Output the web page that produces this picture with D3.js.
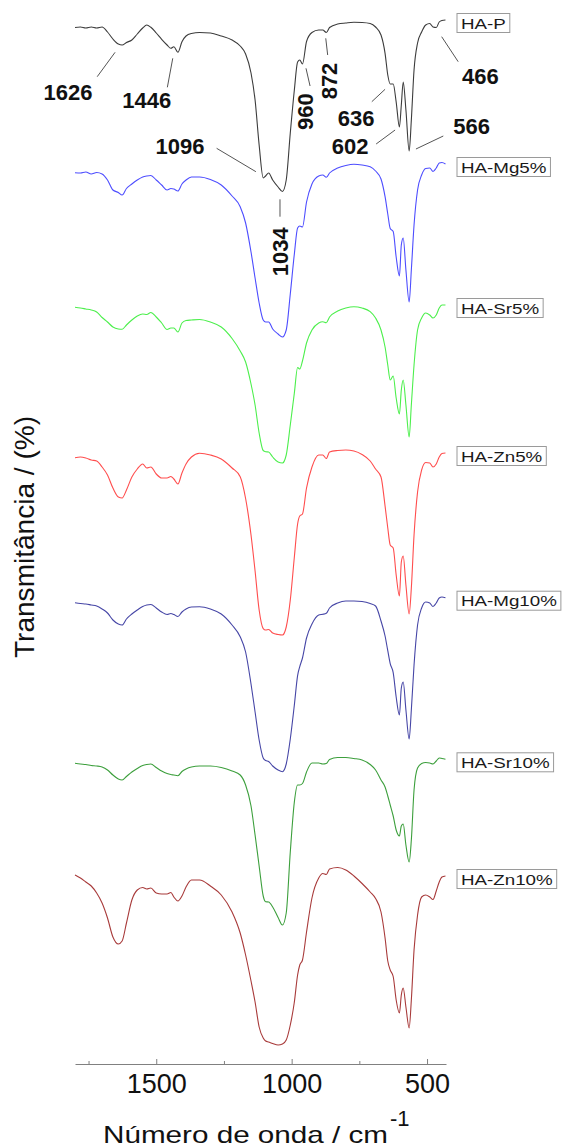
<!DOCTYPE html>
<html>
<head>
<meta charset="utf-8">
<script src="https://cdn.jsdelivr.net/npm/d3@7"></script>
<style>
  body { margin: 0; background: #fff; }
  text { font-family: "Liberation Sans", Arial, sans-serif; }
</style>
</head>
<body>
<div id="plot"></div>
<script>
// ---- data (transmittance, stacked, arbitrary units) ----
const wavenumbers = [1800, 1780, 1760, 1740, 1720, 1700, 1680, 1660, 1640, 1626,
  1610, 1590, 1570, 1550, 1535, 1520, 1500, 1480, 1460, 1446,
  1435, 1420, 1405, 1390, 1370, 1340, 1300, 1260, 1220, 1190,
  1170, 1150, 1135, 1120, 1105, 1096, 1085, 1070, 1050, 1034,
  1020, 1005, 990, 978, 970, 960, 945, 925, 900, 885,
  872, 860, 830, 800, 770, 740, 710, 690, 670, 655,
  645, 636, 625, 614, 602, 595, 588, 578, 566, 558,
  548, 535, 520, 505, 490, 478, 466, 455, 445, 432];

const haP = [1036.5, 1037, 1036, 1037, 1036,
  1037, 1032, 1025, 1020, 1019,
  1021.5, 1024, 1030, 1036, 1039,
  1036.7, 1031, 1024.7, 1019, 1015.7,
  1017.3, 1011.7, 1022.3, 1028, 1030.5,
  1031.5, 1031, 1028, 1024, 1018,
  1010, 991, 964, 919, 886,
  888, 891, 884, 877, 872.5,
  884, 931, 974, 1002, 1004,
  1000, 1022.5, 1031.5, 1034, 1034,
  1031.5, 1036.5, 1040, 1041, 1041.7,
  1041.5, 1040.5, 1037, 1029, 1010.7,
  989, 980, 980, 962, 937,
  959, 982, 954, 913, 944,
  994, 1021, 1032, 1039, 1040.5,
  1037, 1036.5, 1042, 1043.5, 1044];

const haMg5 = [891.3, 891, 892, 890, 891.5,
  890, 884, 874, 871.5, 869,
  875.5, 880, 884, 887, 888,
  888.5, 884, 879, 874, 875.5,
  875, 873, 880, 884, 887,
  887, 884.5, 879, 868, 857.3,
  841, 812, 786, 761, 744,
  742, 742, 735, 730, 727,
  734, 770, 810, 836, 838,
  837, 862, 880, 888, 889,
  886.7, 891, 896, 898.5, 899.7,
  899, 897.3, 893, 885, 867.3,
  850, 835.5, 832.5, 807, 788,
  819, 826, 794, 762, 794,
  839, 874, 889, 895.5, 896,
  892.5, 896, 901, 901.5, 900];

const haSr5 = [756.7, 756, 755, 754, 752,
  746.5, 742, 737, 735, 734.7,
  739, 744, 748, 750, 749.5,
  751.5, 747, 741, 734.5, 736,
  736, 732, 741, 743.5, 744,
  744.5, 742, 737, 725.5, 713,
  702, 680, 659, 631, 613.5,
  612.3, 612, 607, 602, 601,
  609, 639, 671, 696.5, 695,
  703, 721, 734, 741, 742.3,
  741.3, 747, 753, 756, 757.3,
  756, 752.3, 746, 734, 717,
  699, 684, 688, 666, 650,
  674, 684, 659, 627, 659,
  699, 734, 746, 751, 749,
  746, 749, 756, 759, 759];

const haZn5 = [606.3, 607, 606, 604, 603,
  597, 589, 576, 567, 566,
  574, 587, 595, 600, 596,
  597, 590, 586, 586, 587.5,
  585, 580, 591, 600, 607,
  610.7, 609, 605, 596, 587.3,
  565.5, 529, 493, 454, 435.4,
  434, 434.5, 431, 429.5, 429,
  437, 464, 507, 540, 548,
  550, 576, 597, 609, 609,
  605.5, 612, 613.5, 614, 613,
  609.5, 603, 595, 587, 558,
  536, 519, 516, 489, 468,
  502, 508, 479, 450, 476,
  529, 572, 594, 601.5, 601,
  597, 600, 607, 610.5, 611];

const haMg10 = [461.3, 460.5, 460, 459, 458,
  455, 451, 444, 440, 439,
  445, 450, 454, 457.5, 459,
  459.5, 456, 452, 449.5, 450.5,
  449.5, 447.5, 452, 455, 457,
  457.3, 455, 450, 439, 427.3,
  412, 380, 352, 324, 306,
  303.5, 302.5, 298, 294, 292.3,
  300, 325, 359, 388.4, 397.4,
  406, 426, 440, 449, 449.7,
  450.7, 456, 461, 463, 463,
  462.5, 460.5, 458, 443, 428,
  413.3, 400.4, 391.3, 367, 349,
  376, 382, 354, 325, 354,
  399, 439, 456, 462, 461,
  457.5, 461, 466, 467, 466.3];

const haSr10 = [300.7, 300, 299.5, 298.5, 298,
  297, 294, 289, 285, 284,
  287.5, 292, 295.5, 298.5, 299.5,
  300, 296.5, 293, 290.5, 289.5,
  289, 288.3, 292.5, 295, 297,
  298, 298, 296.5, 293, 289,
  279, 258, 229, 198, 168,
  162.3, 162, 157, 146.5, 139,
  151, 212, 262, 279, 279,
  280.5, 292, 301, 301, 300,
  300.5, 304.5, 306.5, 306.5, 305.5,
  304, 299.5, 294, 284, 277,
  268, 259, 248, 234, 228,
  238, 240, 219, 202, 224,
  274, 296, 300.5, 301.5, 301,
  300, 303, 306, 305.5, 304.7];

const haZn10 = [189, 186, 182, 178, 171,
  161, 146, 127, 120, 123,
  141, 164, 174, 176.5, 175,
  176, 171, 170, 170, 171.5,
  167, 163, 168, 177, 184,
  184, 178, 169, 152, 131,
  109, 83, 62, 37, 26,
  23, 22, 20.5, 19, 20,
  24, 39, 62, 89, 99,
  104, 132, 166, 186, 190.5,
  189.5, 195, 196.5, 194, 188,
  180.5, 172, 165.5, 152, 126,
  103, 94, 87.5, 64, 51,
  69, 76, 57, 36, 64,
  114, 149, 167, 169, 167,
  164.5, 173, 182, 187, 188];

const seriesNames = ["HA-P", "HA-Mg5%", "HA-Sr5%", "HA-Zn5%", "HA-Mg10%", "HA-Sr10%", "HA-Zn10%"];
const seriesValues = [haP, haMg5, haSr5, haZn5, haMg10, haSr10, haZn10];

const xTicks = [1500, 1000, 500];
const xMinorTicks = [1750, 1250, 750];
const peakLabels = ["1626", "1446", "1096", "1034", "960", "872", "636", "602", "566", "466"];

// ---- layout ----
const svg_w = 566;
const svg_h = 1147;
const plot = {left: 75, right: 446, top: 0, bottom: 1064};
const colors = ["#3c3c3c", "#4d4dff", "#4cef4c", "#ff4d4d", "#4646a6", "#3c9f3c", "#a83a3a"];

// annotation placement in data units: text centre, leader line ends
const annot = [
  {t: [1826, 972], l: [1718, 987.3, 1652, 1011.7]},
  {t: [1535, 963.3], l: [1459, 976.7, 1439, 1005.7]},
  {t: [1412, 917.3], l: [1277, 915.7, 1132, 892.3]},
  {t: [1043, 812.3], l: [1043, 864.7, 1043, 847.3], rot: true},
  {t: [951, 952.3], l: [947, 995.7, 932, 978], rot: true},
  {t: [862, 983], l: [874, 1025.7, 867, 1009], rot: true},
  {t: [762, 946], l: [704, 962.3, 655, 974.7]},
  {t: [784, 917.3], l: [688, 920, 618, 934]},
  {t: [335, 937.3], l: [541, 915, 440, 928]},
  {t: [303, 987.3], l: [446, 1027.3, 385, 1002.3]}
];

const svg = d3.select("div#plot")
  .append("svg")
    .attr("width", svg_w)
    .attr("height", svg_h);

svg.append("rect")
    .attr("width", svg_w)
    .attr("height", svg_h)
    .attr("fill", "white");

const xScale = d3.scaleLinear().domain([1800, 430]).range([plot.left, plot.right]);
const yScale = d3.scaleLinear().domain([0, 1064]).range([plot.bottom, plot.top]);

const line = d3.line()
    .x((d, i) => xScale(wavenumbers[i]))
    .y(d => yScale(d))
    .curve(d3.curveMonotoneX);

// spectra
svg.append("g")
    .attr("id", "spectra")
  .selectAll("path")
  .data(seriesValues)
  .enter()
  .append("path")
    .attr("d", d => line(d))
    .attr("fill", "none")
    .attr("stroke", (d, i) => colors[i])
    .attr("stroke-width", 1.1);

// legend boxes at the right end of each trace
const legend = svg.append("g").attr("id", "legend");
seriesNames.forEach(function(name, i) {
  const vals = seriesValues[i];
  const cy = yScale(vals[vals.length - 1]) + 3;
  const g = legend.append("g");
  const rect = g.append("rect");
  const txt = g.append("text")
      .attr("x", 461)
      .attr("y", cy + 5.5)
      .style("font-size", "15px")
      .attr("fill", "#1a1a1a")
      .text(name);
  const w = txt.node().getComputedTextLength() * 1.25;
  txt.attr("textLength", w).attr("lengthAdjust", "spacingAndGlyphs");
  rect.attr("x", 457)
      .attr("y", cy - 9.5)
      .attr("width", w + 8)
      .attr("height", 19)
      .attr("fill", "white")
      .attr("stroke", "#9a9a9a")
      .attr("stroke-width", 1);
});

// peak annotations on HA-P
const ann = svg.append("g").attr("id", "annotations");
annot.forEach(function(a, i) {
  ann.append("line")
      .attr("x1", xScale(a.l[0]))
      .attr("y1", yScale(a.l[1]))
      .attr("x2", xScale(a.l[2]))
      .attr("y2", yScale(a.l[3]))
      .attr("stroke", "#555")
      .attr("stroke-width", 1);
  const tx = xScale(a.t[0]);
  const ty = yScale(a.t[1]);
  ann.append("text")
      .attr("transform", a.rot ? `translate(${tx},${ty}) rotate(-90)` : `translate(${tx},${ty})`)
      .attr("text-anchor", "middle")
      .attr("dy", "0.35em")
      .style("font-size", "22px")
      .style("font-weight", "bold")
      .attr("fill", "#111")
      .text(peakLabels[i]);
});

// x axis, ticks pointing up into the plot
const xAxis = d3.axisBottom(xScale)
    .tickValues(xTicks)
    .tickFormat(d3.format("d"))
    .tickSizeInner(-5)
    .tickSizeOuter(0)
    .tickPadding(10);

const gx = svg.append("g")
    .attr("class", "xAxis")
    .attr("transform", `translate(0, ${plot.bottom})`)
    .call(xAxis);
gx.select(".domain").attr("stroke", "#808080");
gx.selectAll(".tick line").attr("stroke", "#808080");
gx.selectAll(".tick text")
    .style("font-size", "27px")
    .style("font-family", "'Liberation Sans', Arial, sans-serif")
    .attr("fill", "#111");

const gxMinor = svg.append("g")
    .attr("class", "xAxisMinor")
    .attr("transform", `translate(0, ${plot.bottom})`)
    .call(d3.axisBottom(xScale).tickValues(xMinorTicks).tickSizeInner(-3).tickSizeOuter(0).tickFormat(""));
gxMinor.select(".domain").remove();
gxMinor.selectAll(".tick line").attr("stroke", "#808080");

// axis titles
svg.append("text")
    .attr("x", 103)
    .attr("y", 1143)
    .attr("textLength", 285)
    .attr("lengthAdjust", "spacingAndGlyphs")
    .style("font-size", "24px")
    .attr("fill", "#111")
    .text("Número de onda / cm");

svg.append("text")
    .attr("x", 390)
    .attr("y", 1126)
    .style("font-size", "22px")
    .attr("fill", "#111")
    .text("-1");

svg.append("text")
    .attr("transform", "translate(34, 537) rotate(-90)")
    .attr("text-anchor", "middle")
    .attr("textLength", 242)
    .attr("lengthAdjust", "spacingAndGlyphs")
    .style("font-size", "27px")
    .attr("fill", "#111")
    .text("Transmitância / (%)");
</script>
</body>
</html>
